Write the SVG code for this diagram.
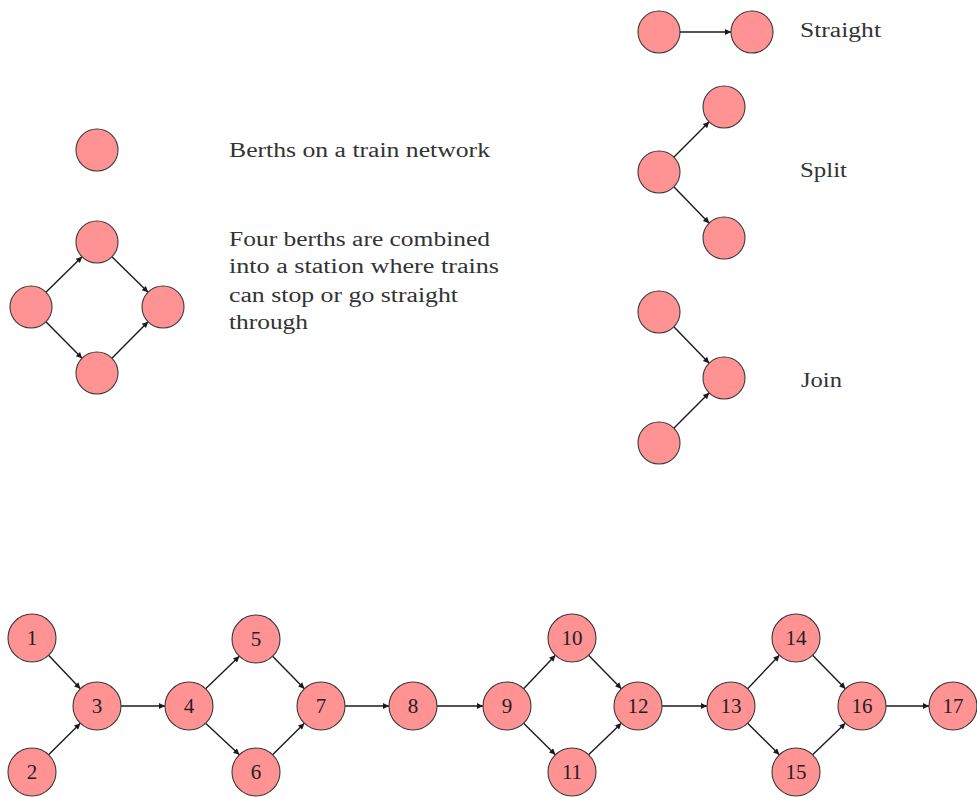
<svg xmlns="http://www.w3.org/2000/svg" width="977" height="798" viewBox="0 0 977 798">
<style>
.n{fill:#ff9292;stroke:#3a3a3a;stroke-width:1.1}
.e{stroke:#1a1a1a;stroke-width:1.4;fill:none;marker-end:url(#ah)}
.t{font-family:"Liberation Serif",serif;font-size:20px;fill:#333}
.l{font-family:"Liberation Serif",serif;font-size:21px;fill:#222;text-anchor:middle;dominant-baseline:central}
</style>
<defs>
<marker id="ah" viewBox="0 0 10 10" refX="10" refY="5" markerWidth="8" markerHeight="6" markerUnits="userSpaceOnUse" orient="auto">
<path d="M0,0 L10,5 L0,10 Z" fill="#1a1a1a"/>
</marker>
</defs>
<rect width="977" height="798" fill="#fff"/>
<g id="connectors">
<line class="e" x1="680" y1="32" x2="731" y2="32"/>
<line class="e" x1="673.8" y1="157.2" x2="709.2" y2="121.8"/>
<line class="e" x1="673.8" y1="186.8" x2="709.2" y2="223.2"/>
<line class="e" x1="673.8" y1="326.8" x2="709.2" y2="363.2"/>
<line class="e" x1="673.8" y1="428.2" x2="709.2" y2="392.8"/>
<line class="e" x1="45.9" y1="292.3" x2="82.1" y2="256.7"/>
<line class="e" x1="45.9" y1="321.7" x2="82.1" y2="358.3"/>
<line class="e" x1="111.9" y1="256.7" x2="148.1" y2="292.3"/>
<line class="e" x1="111.9" y1="358.3" x2="148.1" y2="321.7"/>
<line class="e" x1="48.6" y1="655.3" x2="80.4" y2="688.7"/>
<line class="e" x1="48.6" y1="754.7" x2="80.4" y2="723.3"/>
<line class="e" x1="121" y1="706" x2="165" y2="706"/>
<line class="e" x1="205.6" y1="688.7" x2="239.4" y2="656.3"/>
<line class="e" x1="205.6" y1="723.3" x2="239.4" y2="754.7"/>
<line class="e" x1="272.6" y1="656.3" x2="304.4" y2="688.7"/>
<line class="e" x1="272.6" y1="754.7" x2="304.4" y2="723.3"/>
<line class="e" x1="345" y1="706" x2="389" y2="706"/>
<line class="e" x1="437" y1="706" x2="483" y2="706"/>
<line class="e" x1="523.6" y1="688.7" x2="555.4" y2="655.3"/>
<line class="e" x1="523.6" y1="723.3" x2="555.4" y2="754.7"/>
<line class="e" x1="588.6" y1="655.3" x2="621.4" y2="688.7"/>
<line class="e" x1="588.6" y1="754.7" x2="621.4" y2="723.3"/>
<line class="e" x1="662" y1="706" x2="707" y2="706"/>
<line class="e" x1="747.6" y1="688.7" x2="779.4" y2="655.3"/>
<line class="e" x1="747.6" y1="723.3" x2="779.4" y2="754.7"/>
<line class="e" x1="812.6" y1="655.3" x2="845.4" y2="688.7"/>
<line class="e" x1="812.6" y1="754.7" x2="845.4" y2="723.3"/>
<line class="e" x1="886" y1="706" x2="929" y2="706"/>
</g>
<g id="legend-berth"><circle class="n" cx="97" cy="150" r="21"/></g>
<g id="legend-station">
<circle class="n" cx="97" cy="242" r="21"/>
<circle class="n" cx="31" cy="307" r="21"/>
<circle class="n" cx="163" cy="307" r="21"/>
<circle class="n" cx="97" cy="373" r="21"/>
</g>
<g id="legend-straight">
<circle class="n" cx="659" cy="32" r="21"/>
<circle class="n" cx="752" cy="32" r="21"/>
</g>
<g id="legend-split">
<circle class="n" cx="659" cy="172" r="21"/>
<circle class="n" cx="724" cy="107" r="21"/>
<circle class="n" cx="724" cy="238" r="21"/>
</g>
<g id="legend-join">
<circle class="n" cx="659" cy="312" r="21"/>
<circle class="n" cx="724" cy="378" r="21"/>
<circle class="n" cx="659" cy="443" r="21"/>
</g>
<g id="legend-text">
<text class="t" x="229" y="157" textLength="261" lengthAdjust="spacingAndGlyphs">Berths on a train network</text>
<text class="t" x="229" y="246" textLength="261" lengthAdjust="spacingAndGlyphs">Four berths are combined</text>
<text class="t" x="229" y="273" textLength="270" lengthAdjust="spacingAndGlyphs">into a station where trains</text>
<text class="t" x="229" y="302" textLength="229" lengthAdjust="spacingAndGlyphs">can stop or go straight</text>
<text class="t" x="229" y="329" textLength="79" lengthAdjust="spacingAndGlyphs">through</text>
<text class="t" x="800" y="37" textLength="81" lengthAdjust="spacingAndGlyphs">Straight</text>
<text class="t" x="800" y="177" textLength="47" lengthAdjust="spacingAndGlyphs">Split</text>
<text class="t" x="801" y="387" textLength="41" lengthAdjust="spacingAndGlyphs">Join</text>
</g>
<g id="n1"><circle class="n" cx="32" cy="638" r="24"/><text class="l" x="32" y="638">1</text></g>
<g id="n2"><circle class="n" cx="32" cy="772" r="24"/><text class="l" x="32" y="772">2</text></g>
<g id="n3"><circle class="n" cx="97" cy="706" r="24"/><text class="l" x="97" y="706">3</text></g>
<g id="n4"><circle class="n" cx="189" cy="706" r="24"/><text class="l" x="189" y="706">4</text></g>
<g id="n5"><circle class="n" cx="256" cy="639" r="24"/><text class="l" x="256" y="639">5</text></g>
<g id="n6"><circle class="n" cx="256" cy="772" r="24"/><text class="l" x="256" y="772">6</text></g>
<g id="n7"><circle class="n" cx="321" cy="706" r="24"/><text class="l" x="321" y="706">7</text></g>
<g id="n8"><circle class="n" cx="413" cy="706" r="24"/><text class="l" x="413" y="706">8</text></g>
<g id="n9"><circle class="n" cx="507" cy="706" r="24"/><text class="l" x="507" y="706">9</text></g>
<g id="n10"><circle class="n" cx="572" cy="638" r="24"/><text class="l" x="572" y="638">10</text></g>
<g id="n11"><circle class="n" cx="572" cy="772" r="24"/><text class="l" x="572" y="772">11</text></g>
<g id="n12"><circle class="n" cx="638" cy="706" r="24"/><text class="l" x="638" y="706">12</text></g>
<g id="n13"><circle class="n" cx="731" cy="706" r="24"/><text class="l" x="731" y="706">13</text></g>
<g id="n14"><circle class="n" cx="796" cy="638" r="24"/><text class="l" x="796" y="638">14</text></g>
<g id="n15"><circle class="n" cx="796" cy="772" r="24"/><text class="l" x="796" y="772">15</text></g>
<g id="n16"><circle class="n" cx="862" cy="706" r="24"/><text class="l" x="862" y="706">16</text></g>
<g id="n17"><circle class="n" cx="953" cy="706" r="24"/><text class="l" x="953" y="706">17</text></g>
</svg>
